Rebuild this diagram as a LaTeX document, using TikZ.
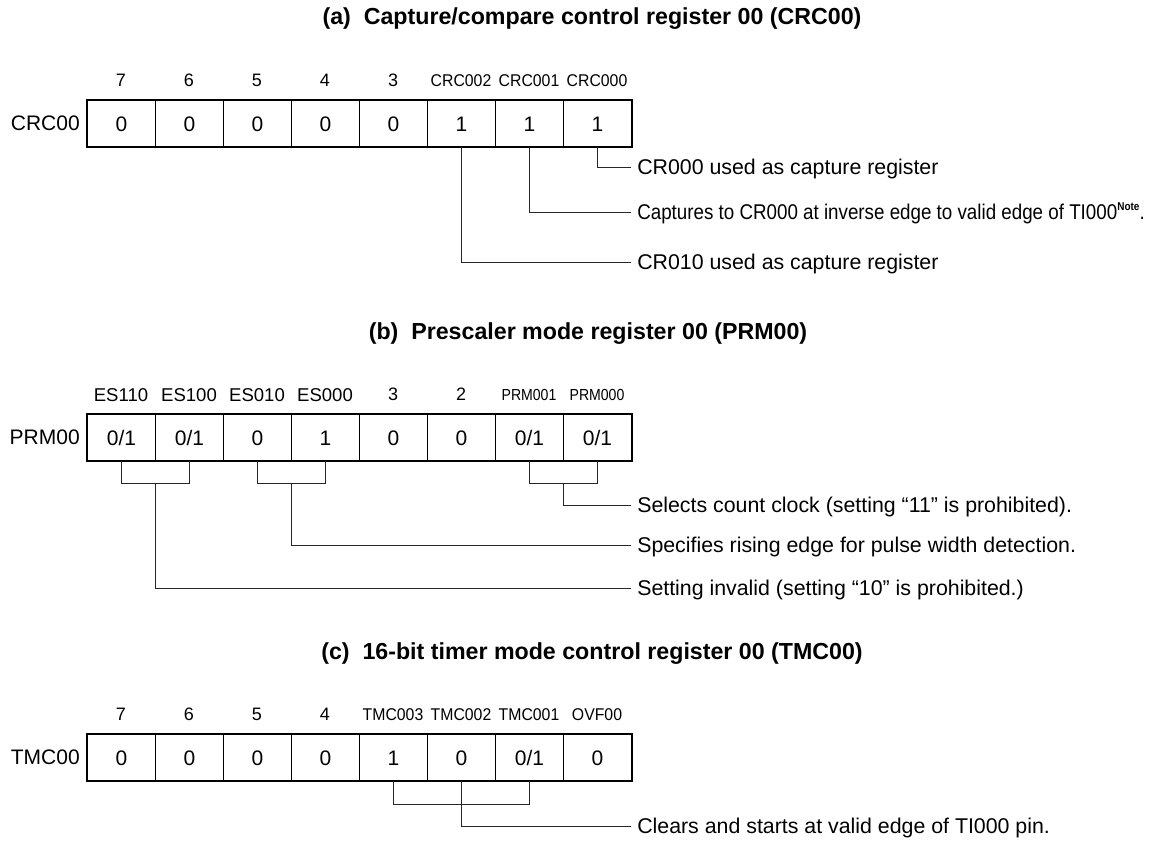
\documentclass[tikz,border=0pt]{standalone}
\usepackage{fontspec}
\setmainfont{Liberation Sans}
\usepackage{graphicx}
\usetikzlibrary{calc}
\newcommand\myRegFont{\fontsize{15.75pt}{18pt}\selectfont}
\newcommand\myNumFont{\fontsize{13.5pt}{16pt}\selectfont}
\newcommand\myNameFont{\fontsize{12.75pt}{15pt}\selectfont}
\newcommand\myPrmFont{\fontsize{12pt}{14pt}\selectfont}
\newcommand\myDescFont{\fontsize{16pt}{19pt}\selectfont}
\newcommand\myTitleFont{\fontsize{17.4pt}{20pt}\selectfont\bfseries}
\newcommand\myCond[2]{\scalebox{#1}[1]{#2}}
\begin{document}
\begin{tikzpicture}[x=0.75pt,y=-0.75pt,
  cell/.style={draw=black, line width=0.75pt, minimum width=51pt, minimum height=34.5pt,
    inner sep=0pt, anchor=north west, font=\myRegFont, text height=11.3pt, text depth=0pt},
  outer/.style={line width=1.9pt},
  bitlbl/.style={inner sep=0pt, font=\myNumFont, text height=9.7pt, text depth=0pt},
  namelbl/.style={inner sep=0pt, font=\myNameFont, text height=9.1pt, text depth=0pt},
  eslbl/.style={inner sep=0pt, font=\fontsize{13.9pt}{16pt}\selectfont, text height=9.9pt, text depth=0pt},
  prmlbl/.style={inner sep=0pt, font=\myPrmFont, text height=8.6pt, text depth=0pt},
  regname/.style={anchor=east, inner sep=0pt, font=\myRegFont, text height=11.3pt, text depth=0pt},
  desc/.style={anchor=west, inner xsep=4.5pt, inner ysep=0pt, font=\myDescFont, text height=11.46pt, text depth=0pt},
  ttl/.style={inner sep=0pt, font=\myTitleFont, text height=12.5pt, text depth=0pt},
  lead/.style={line width=0.75pt, black!85}
]
\useasboundingbox (0,0) rectangle (1162,840);

% ---------------- (a) ----------------
\node[ttl] (ta) at (592,16) {(a)\ \ Capture/compare control register 00 (CRC00)};
\foreach \v [count=\i] in {0,0,0,0,0,1,1,1}
  \node[cell] (a\i) at ({87+68*(\i-1)},100) {\v};
\draw[outer] (a1.north west) rectangle (a8.south east);
\node[regname] (an) at (80,123) {CRC00};
\foreach \l [count=\i] in {7,6,5,4,3}
  \node[bitlbl] (al\i) at ({121+68*(\i-1)},80) {\l};
\node[namelbl] (al6) at (461,80) {\myCond{0.93}{CRC002}};
\node[namelbl] (al7) at (529,80) {\myCond{0.93}{CRC001}};
\node[namelbl] (al8) at (597,80) {\myCond{0.93}{CRC000}};

\node[desc] (da1) at (631,167) {CR000 used as capture register};
\node[desc] (da2) at (631,212) {\myCond{0.88}{Captures to CR000 at inverse edge to valid edge of TI000\raisebox{0.42em}{\fontsize{8.5pt}{9pt}\selectfont\bfseries Note}.}};
\node[desc] (da3) at (631,262) {CR010 used as capture register};
\draw[lead] (a8.south) |- (da1.west);
\draw[lead] (a7.south) |- (da2.west);
\draw[lead] (a6.south) |- (da3.west);

% ---------------- (b) ----------------
\node[ttl] (tb) at (588,331) {(b)\ \ Prescaler mode register 00 (PRM00)};
\foreach \v [count=\i] in {0/1,0/1,0,1,0,0,0/1,0/1}
  \node[cell] (b\i) at ({87+68*(\i-1)},414) {\v};
\draw[outer] (b1.north west) rectangle (b8.south east);
\node[regname] (bn) at (80,437) {PRM00};
\node[eslbl] (bl1) at (121,394.5) {ES110};
\node[eslbl] (bl2) at (189,394.5) {ES100};
\node[eslbl] (bl3) at (257,394.5) {ES010};
\node[eslbl] (bl4) at (325,394.5) {ES000};
\node[bitlbl] (bl5) at (393,394.5) {3};
\node[bitlbl] (bl6) at (461,394.5) {2};
\node[prmlbl] (bl7) at (529,394.5) {\myCond{0.88}{PRM001}};
\node[prmlbl] (bl8) at (597,394.5) {\myCond{0.88}{PRM000}};

\node[desc] (db1) at (631,505) {Selects count clock (setting “11” is prohibited).};
\node[desc] (db2) at (631,545) {Specifies rising edge for pulse width detection.};
\node[desc] (db3) at (631,588) {Setting invalid (setting “10” is prohibited.)};

\draw[lead] (b1.south) -- ++(0,22) -| (b2.south);
\draw[lead] (b3.south) -- ++(0,22) -| (b4.south);
\draw[lead] (b7.south) -- ++(0,22) -| (b8.south);
\coordinate (bk12) at ($(b1.south)!0.5!(b2.south)+(0,22)$);
\coordinate (bk34) at ($(b3.south)!0.5!(b4.south)+(0,22)$);
\coordinate (bk78) at ($(b7.south)!0.5!(b8.south)+(0,22)$);
\draw[lead] (bk78) |- (db1.west);
\draw[lead] (bk34) |- (db2.west);
\draw[lead] (bk12) |- (db3.west);

% ---------------- (c) ----------------
\node[ttl] (tc) at (592,651) {(c)\ \ 16-bit timer mode control register 00 (TMC00)};
\foreach \v [count=\i] in {0,0,0,0,1,0,0/1,0}
  \node[cell] (c\i) at ({87+68*(\i-1)},734) {\v};
\draw[outer] (c1.north west) rectangle (c8.south east);
\node[regname] (cn) at (80,757) {TMC00};
\foreach \l [count=\i] in {7,6,5,4}
  \node[bitlbl] (cl\i) at ({121+68*(\i-1)},714.5) {\l};
\node[namelbl] (cl5) at (393,714.5) {\myCond{0.93}{TMC003}};
\node[namelbl] (cl6) at (461,714.5) {\myCond{0.93}{TMC002}};
\node[namelbl] (cl7) at (529,714.5) {\myCond{0.93}{TMC001}};
\node[namelbl] (cl8) at (597,714.5) {\myCond{0.93}{OVF00}};

\node[desc] (dc1) at (631,826) {Clears and starts at valid edge of TI000 pin.};
\draw[lead] (c5.south) -- ++(0,23) -| (c7.south);
\draw[lead] (c6.south) |- (dc1.west);
\end{tikzpicture}
\end{document}
